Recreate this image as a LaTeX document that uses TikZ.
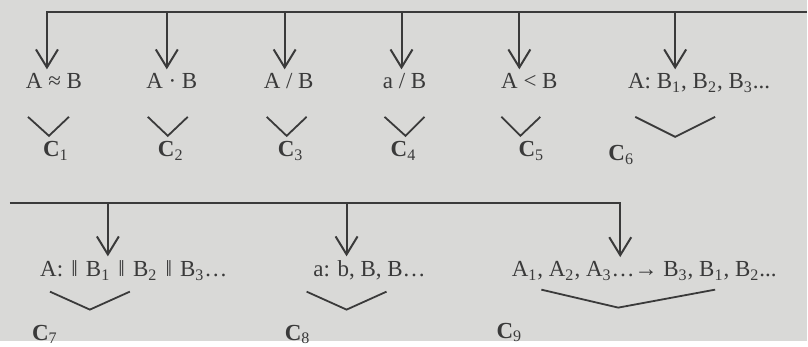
\documentclass[tikz,border=0pt]{standalone}
\usepackage{fontspec}
\setmainfont{Liberation Serif}
\usetikzlibrary{arrows.meta}
\definecolor{Ink}{HTML}{3A3A3A}
\definecolor{Paper}{HTML}{D9D9D7}
\newcommand{\bars}{\kern1.2pt‖\kern1.2pt}
\tikzset{
  relation/.style={
    text=Ink, inner sep=2pt, anchor=base,
    font=\fontsize{11.5}{14}\selectfont
  },
  case/.style={
    text=Ink, inner sep=1pt, font=\fontsize{11.5}{14}\selectfont
  },
  flow/.style={-{Straight Barb[length=9pt,width=11pt]}, line width=1pt, draw=Ink},
  vee/.style={line width=0.9pt, draw=Ink}
}

\begin{document}
\begin{tikzpicture}[x=0.5pt,y=-0.5pt]
    \fill[Paper] (0,0) rectangle (808,341);

    % first row
    \node[relation] (rel1) at (54,89) {A ≈ B};
    \node[relation] (rel2) at (172,89) {A · B};
    \node[relation] (rel3) at (289,89) {A / B};
    \node[relation] (rel4) at (405,89) {a / B};
    \node[relation] (rel5) at (530,89) {A < B};
    \node[relation] (rel6) at (700,89)
      {A: B\textsubscript{1}, B\textsubscript{2}, B\textsubscript{3}...};

    \coordinate (busA) at (808,12);
    \foreach \n/\x in {1/47,2/167,3/285,4/402,5/520,6/676}
      \coordinate (a\n) at (\x,12);
    \draw[flow] (busA) -- (a1) -- (a1 |- rel1.north);
    \foreach \n in {2,...,6}
      \draw[flow] (a\n) -- (a\n |- rel\n.north);

    \node[case] (c1) at (56,151) {\textbf{C}\textsubscript{1}};
    \node[case] (c2) at (171,151) {\textbf{C}\textsubscript{2}};
    \node[case] (c3) at (291,151) {\textbf{C}\textsubscript{3}};
    \node[case] (c4) at (404,151) {\textbf{C}\textsubscript{4}};
    \node[case] (c5) at (532,151) {\textbf{C}\textsubscript{5}};
    \node[case] (c6) at (622,155) {\textbf{C}\textsubscript{6}};

    % second row
    \node[relation] (rel7) at (134,277)
      {A: \bars{} B\textsubscript{1} \bars{} B\textsubscript{2} \bars{} B\textsubscript{3}…};
    \node[relation] (rel8) at (370,277) {a: b, B, B…};
    \node[relation] (rel9) at (645,277)
      {A\textsubscript{1}, A\textsubscript{2}, A\textsubscript{3}…→ B\textsubscript{3},
       B\textsubscript{1}, B\textsubscript{2}...};

    \coordinate (busB) at (10,203);
    \coordinate (a7) at (108,203);
    \coordinate (a8) at (347,203);
    \coordinate (a9) at (621,203);
    \draw[flow] (busB) -- (a9) -- (a9 |- rel9.north);
    \draw[flow] (a7) -- (a7 |- rel7.north);
    \draw[flow] (a8) -- (a8 |- rel8.north);

    \node[case] (c7) at (45,335) {\textbf{C}\textsubscript{7}};
    \node[case] (c8) at (298,335) {\textbf{C}\textsubscript{8}};
    \node[case] (c9) at (510,333) {\textbf{C}\textsubscript{9}};

    % brackets
    \foreach \x/\y/\l/\r/\h in {49/136/21/20/19, 168/136/20/20/19,
        287/136/20/20/19, 406/136/21/19/19, 521/136/19/20/19,
        676/137/40/40/20, 90/310/40/40/18, 347/310/40/40/18,
        619/308/77/97/18}
      \draw[vee] ({\x-\l},{\y-\h}) -- (\x,\y) -- ({\x+\r},{\y-\h});
\end{tikzpicture}
\end{document}
